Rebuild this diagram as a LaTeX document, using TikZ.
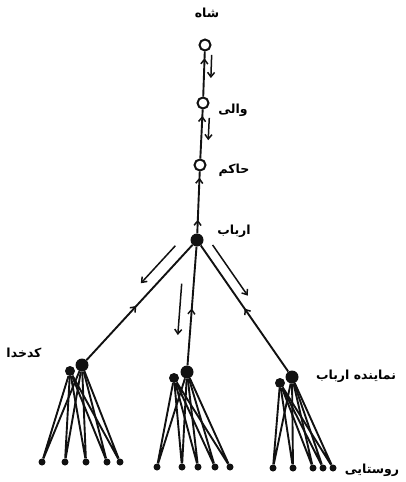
\documentclass[tikz,border=0pt]{standalone}
\usepackage{fontspec}
\usetikzlibrary{arrows.meta,calc,decorations.markings}
\newfontfamily\arabicfont[Script=Arabic]{DejaVu Sans}
\TeXXeTstate=1
\definecolor{InkMain}{HTML}{111111}
\tikzset{>={Straight Barb[length=4.5pt,width=7pt]},every node/.style={font=\arabicfont\bfseries\fontsize{12.5}{14}\selectfont},
 rank/.style={circle,draw=InkMain,line width=2pt,minimum size=11pt,inner sep=0pt,fill=white},
 hub/.style={circle,fill=InkMain,inner sep=0pt,minimum size=#1},
 leaf/.style={circle,fill=InkMain,inner sep=0pt,minimum size=7pt},
 tie/.style={draw=InkMain,line width=1.9pt},
 order/.style={draw=InkMain,line width=1.5pt,->},
 upmark/.style={postaction={decorate,decoration={markings,mark=at position #1 with {\arrow[line width=1.5pt]{>}}}}}}
\begin{document}
\begin{tikzpicture}[x=1pt,y=-1pt]
\useasboundingbox (0,0) rectangle (406,482);
% chain of command
\node[rank] (shah) at (205,45) {};
\node[rank] (vali) at (203,103) {};
\node[rank] (hakem) at (200,165) {};
\node[hub=13pt] (arbab) at (197,240) {};
\node (tshah) at (207,13) {\beginR شاه\endR};
\node (tvali) at (233,110) {\beginR والی\endR};
\node (thakem) at (234,170) {\beginR حاکم\endR};
\node (tarbab) at (234,231) {\beginR ارباب\endR};
\draw[tie,upmark=.85] (vali)--(shah);
\draw[tie,upmark=.87] (hakem)--(vali);
\draw[tie,upmark=.22,upmark=.9] (arbab)--(hakem);
\draw[order] ($(shah)!.17!(vali)+(7,0)$)--($(shah)!.57!(vali)+(7,0)$);
\draw[order] ($(vali)!.24!(hakem)+(7,0)$)--($(vali)!.6!(hakem)+(7,0)$);
% three villages
\node[hub=13pt] (kad) at (82,365) {};\node[hub=10pt] (kadb) at (70,371) {};
\node[hub=13pt] (mid) at (187,372) {};\node[hub=10pt] (midb) at (174,378) {};
\node[hub=13pt] (rep) at (292,377) {};\node[hub=10pt] (repb) at (280,383) {};
\node (tkad) at (24,353) {\beginR کدخدا\endR};
\node (trep) at (356,376) {\beginR نماینده ارباب\endR};
\node (trust) at (372,470) {\beginR روستایی\endR};
\draw[tie,upmark=.47] (kad)--(arbab);
\draw[tie,upmark=.48] (mid)--(arbab);
\draw[tie,upmark=.5] (rep)--(arbab);
\draw[order] ($(arbab)!.11!(kad)+(-9,-8)$)--($(arbab)!.41!(kad)+(-9,-8)$);
\draw[order] ($(arbab)!.33!(mid)+(-12,0)$)--($(arbab)!.72!(mid)+(-12,0)$);
\draw[order] ($(arbab)!.08!(rep)+(8,-6)$)--($(arbab)!.45!(rep)+(8,-6)$);
\foreach \x [count=\i] in {42,65,86,107,120}{
 \node[leaf] (k\i) at (\x,462) {};
 \draw[tie] (kad)--(k\i) (kadb)--(k\i);
}
\foreach \x [count=\i] in {157,182,198,215,230}{
 \node[leaf] (m\i) at (\x,467) {};
 \draw[tie] (mid)--(m\i) (midb)--(m\i);
}
\foreach \x [count=\i] in {273,293,313,323,333}{
 \node[leaf] (r\i) at (\x,468) {};
 \draw[tie] (rep)--(r\i) (repb)--(r\i);
}
\end{tikzpicture}
\end{document}
